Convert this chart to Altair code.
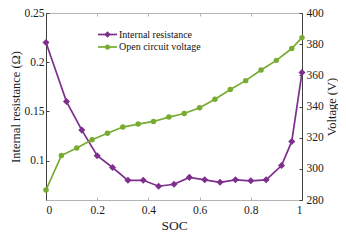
import altair as alt
import pandas as pd

# ---- data ----
soc_r = [0.0, 0.08, 0.14, 0.20, 0.26, 0.32, 0.38, 0.44, 0.50, 0.56, 0.62, 0.68, 0.74, 0.80, 0.86, 0.92, 0.96, 1.0]
res = [0.220, 0.160, 0.131, 0.105, 0.093, 0.080, 0.080, 0.074, 0.076, 0.083, 0.0805, 0.078, 0.0805, 0.0795, 0.0805, 0.095, 0.1195, 0.1895]
soc_v = [0.0, 0.06, 0.12, 0.18, 0.24, 0.30, 0.36, 0.42, 0.48, 0.54, 0.60, 0.66, 0.72, 0.78, 0.84, 0.90, 0.96, 1.0]
volt = [286.4, 308.5, 313.4, 318.7, 322.8, 326.8, 328.7, 330.4, 333.2, 335.5, 339.2, 344.7, 350.9, 356.6, 363.4, 369.6, 377.2, 384.2]

series_names = ["Internal resistance", "Open circuit voltage"]
x_ticks = [0, 0.2, 0.4, 0.6, 0.8, 1.0]
left_ticks = [0.1, 0.15, 0.2, 0.25]
right_ticks = [280, 300, 320, 340, 360, 380, 400]

PURPLE = "#7E2F8E"
GREEN = "#77AC30"
FONT = "Liberation Serif"
GRAY = "#b4b4b4"
DARK = "#404040"

df_r = pd.DataFrame({"soc": soc_r, "res": res})
df_v = pd.DataFrame({"soc": soc_v, "volt": volt})

xscale = alt.Scale(domain=[0, 1], nice=False, zero=False)
inward = alt.ExprRef("-3")

bottom_axis = alt.Axis(orient="bottom", values=x_ticks, format="~g", title="SOC",
                       tickSize=inward, labelPadding=7, titlePadding=3,
                       domainColor=GRAY, tickColor=GRAY, grid=False)
top_axis = alt.Axis(orient="top", values=x_ticks, labels=False, title=None,
                    tickSize=inward, domainColor=GRAY, tickColor=GRAY, grid=False)
left_axis = alt.Axis(orient="left", values=left_ticks, format="~g",
                     title="Internal resistance (Ω)", tickSize=inward, labelPadding=5,
                     titlePadding=1, domainColor=DARK, tickColor=DARK, grid=False)
right_axis = alt.Axis(orient="right", values=right_ticks, format="d",
                      title="Voltage (V)", titleAngle=270, titleBaseline="top",
                      tickSize=inward, labelPadding=7,
                      titlePadding=2, domainColor=DARK, tickColor=DARK, grid=False)

r_base = alt.Chart(df_r).encode(
    x=alt.X("soc:Q", scale=xscale, axis=bottom_axis),
    y=alt.Y("res:Q", scale=alt.Scale(domain=[0.06, 0.25], nice=False, zero=False), axis=left_axis),
)
r_layer = alt.layer(
    r_base.mark_line(color=PURPLE, strokeWidth=1.7),
    r_base.mark_point(shape="diamond", filled=True, size=50, color=PURPLE, opacity=1),
)

v_base = alt.Chart(df_v).encode(
    x=alt.X("soc:Q", scale=xscale, axis=top_axis),
    y=alt.Y("volt:Q", scale=alt.Scale(domain=[280, 400], nice=False, zero=False), axis=right_axis),
)
v_layer = alt.layer(
    v_base.mark_line(color=GREEN, strokeWidth=1.7),
    v_base.mark_point(shape="circle", filled=True, size=30, color=GREEN, opacity=1),
)


def legend_item(name, color, shape, size, ypos):
    d = pd.DataFrame({"label": [name]})
    line = alt.Chart(d).mark_rule(color=color, strokeWidth=1.7).encode(
        x=alt.value(52), x2=alt.value(71), y=alt.value(ypos))
    pt = alt.Chart(d).mark_point(shape=shape, filled=True, size=size, color=color, opacity=1).encode(
        x=alt.value(61.5), y=alt.value(ypos))
    txt = alt.Chart(d).mark_text(align="left", baseline="middle", font=FONT, fontSize=10, color="#111111").encode(
        x=alt.value(73), y=alt.value(ypos), text="label:N")
    return [line, pt, txt]


leg = legend_item(series_names[0], PURPLE, "diamond", 40, 21.5) + \
      legend_item(series_names[1], GREEN, "circle", 26, 34)

chart = alt.layer(r_layer, v_layer, *leg).resolve_scale(
    y="independent"
).resolve_axis(
    x="independent", y="independent"
).properties(
    width=256, height=187,
    autosize=alt.AutoSizeParams(type="none"),
    padding={"left": 38, "top": 5, "right": 36, "bottom": 34},
).configure(
    background="white"
).configure_view(
    stroke=None
).configure_axis(
    labelFont=FONT, titleFont=FONT, labelFontSize=11.5, titleFontSize=12.5,
    titleFontWeight="normal", labelColor="#1a1a1a", titleColor="#1a1a1a",
    domainWidth=1, tickWidth=1,
).configure_axisBottom(
    titleFontSize=13.5
)

chart.save("out.html", embed_options={"renderer": "svg", "actions": False})
